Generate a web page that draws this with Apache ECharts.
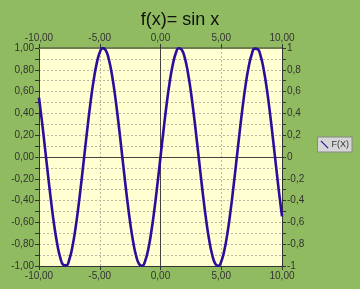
<!DOCTYPE html>
<html><head><meta charset="utf-8">
<script src="https://cdn.jsdelivr.net/npm/echarts@6/dist/echarts.min.js"></script>
<style>html,body{margin:0;padding:0;background:#90bb60}#c{width:360px;height:289px}</style>
</head><body><div id="c"></div>
<script>
var title = 'f(x)= sin x';
var seriesName = 'F(X)';
var xValues = [-10,-9.75,-9.5,-9.25,-9,-8.75,-8.5,-8.25,-8,-7.75,-7.5,-7.25,-7,-6.75,-6.5,-6.25,-6,-5.75,-5.5,-5.25,-5,-4.75,-4.5,-4.25,-4,-3.75,-3.5,-3.25,-3,-2.75,-2.5,-2.25,-2,-1.75,-1.5,-1.25,-1,-0.75,-0.5,-0.25,0,0.25,0.5,0.75,1,1.25,1.5,1.75,2,2.25,2.5,2.75,3,3.25,3.5,3.75,4,4.25,4.5,4.75,5,5.25,5.5,5.75,6,6.25,6.5,6.75,7,7.25,7.5,7.75,8,8.25,8.5,8.75,9,9.25,9.5,9.75,10];
var yValues = [0.5440,0.3195,0.0751,-0.1739,-0.4121,-0.6247,-0.7985,-0.9228,-0.9894,-0.9946,-0.9380,-0.8231,-0.6570,-0.4500,-0.2151,0.0332,0.2794,0.5084,0.7055,0.8589,0.9589,0.9993,0.9775,0.8950,0.7568,0.5716,0.3508,0.1082,-0.1411,-0.3817,-0.5985,-0.7781,-0.9093,-0.9840,-0.9975,-0.9490,-0.8415,-0.6816,-0.4794,-0.2474,0,0.2474,0.4794,0.6816,0.8415,0.9490,0.9975,0.9840,0.9093,0.7781,0.5985,0.3817,0.1411,-0.1082,-0.3508,-0.5716,-0.7568,-0.8950,-0.9775,-0.9993,-0.9589,-0.8589,-0.7055,-0.5084,-0.2794,-0.0332,0.2151,0.4500,0.6570,0.8231,0.9380,0.9946,0.9894,0.9228,0.7985,0.6247,0.4121,0.1739,-0.0751,-0.3195,-0.5440];
var xTicks = [-10,-5,0,5,10];
var yTicksLeft = ['-1,00','-0,80','-0,60','-0,40','-0,20','0,00','0,20','0,40','0,60','0,80','1,00'];
var yTicksRight = ['-1','-0,8','-0,6','-0,4','-0,2','0','0,2','0,4','0,6','0,8','1'];

var data = xValues.map(function(x,i){return [x,yValues[i]];});
var font = 'Liberation Sans, Arial, sans-serif';
var lblColor = '#333';
function fmtX(v){return v.toFixed(2).replace('.',',');}
function idxY(v){return Math.round((v+1)/0.2);}
var chart = echarts.init(document.getElementById('c'));
var xCommon = {
  type:'value', min:-10, max:10, interval:5,
  axisLabel:{color:lblColor, fontFamily:font, fontSize:10, formatter:fmtX, margin:5},
  axisTick:{show:true, length:4, lineStyle:{color:'#333'}},
  splitLine:{show:false}
};
chart.setOption({
  animation:false,
  backgroundColor:'#90bb60',
  title:{text:title, left:'center', top:6, textStyle:{fontFamily:font, fontSize:18, fontWeight:'normal', color:'#111'}},
  legend:{
    data:[{name:seriesName, icon:'path://M0,1 L1,0 L10,9 L9,10 Z'}],
    right:8, top:137, itemWidth:8, itemHeight:8, itemGap:2,
    backgroundColor:'#d6d6d6', borderColor:'#888', borderWidth:1, borderRadius:0,
    padding:[3,3,3,3],
    textStyle:{fontFamily:font, fontSize:9, color:'#333', padding:[0,0,0,-2]}
  },
  grid:{left:39, right:78, top:48, bottom:23, show:true, backgroundColor:'#ffffd2', borderWidth:0},
  xAxis:[
    Object.assign({}, xCommon, {position:'bottom', axisLine:{show:true, onZero:false, lineStyle:{color:'#333', width:1}},
      splitLine:{show:true, lineStyle:{color:'#b8b8a0', type:[2,2], width:1}}}),
    Object.assign({}, xCommon, {position:'top', axisLine:{show:true, onZero:false, lineStyle:{color:'#6d7f4e', width:2}}})
  ],
  yAxis:[
    {type:'value', position:'left', min:-1, max:1, interval:0.2,
     axisLine:{show:true, onZero:false, lineStyle:{color:'#333'}},
     axisTick:{show:true, length:4, lineStyle:{color:'#333'}},
     minorTick:{show:true, splitNumber:2, length:4, lineStyle:{color:'#333'}},
     splitLine:{show:true, lineStyle:{color:'#b8b8a0', type:[2,2]}},
     minorSplitLine:{show:true, lineStyle:{color:'#b8b8a0', type:[2,2]}},
     axisLabel:{color:lblColor, fontFamily:font, fontSize:10, margin:5, formatter:function(v){return yTicksLeft[idxY(v)];}}},
    {type:'value', position:'right', min:-1, max:1, interval:0.2,
     axisLine:{show:true, onZero:false, lineStyle:{color:'#333'}},
     axisTick:{show:true, length:4, lineStyle:{color:'#333'}},
     minorTick:{show:true, splitNumber:2, length:4, lineStyle:{color:'#333'}},
     splitLine:{show:false},
     axisLabel:{color:lblColor, fontFamily:font, fontSize:10, margin:5, formatter:function(v){return yTicksRight[idxY(v)];}}}
  ],
  series:[{
    name:seriesName, type:'line', data:data, smooth:true, showSymbol:false,
    xAxisIndex:0, yAxisIndex:0,
    lineStyle:{color:'#2d0c9c', width:2.6}, itemStyle:{color:'#2d0c9c'},
    markLine:{silent:true, symbol:'none', label:{show:false}, animation:false,
      lineStyle:{color:'#444', type:'solid', width:1},
      data:[{xAxis:0},{yAxis:0}]},
    z:5
  }]
});
</script></body></html>
